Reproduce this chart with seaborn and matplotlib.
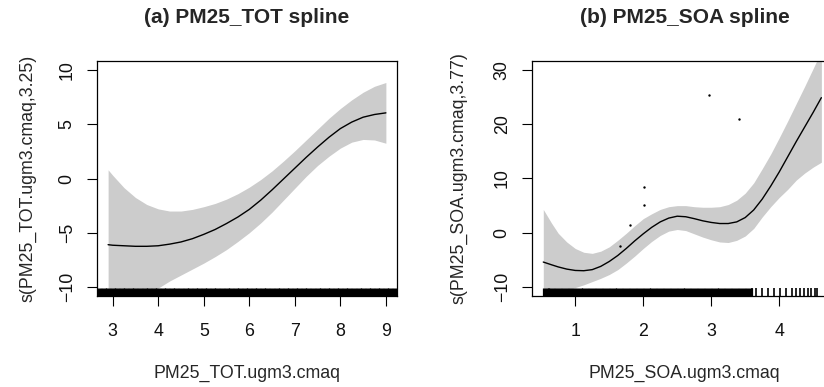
import matplotlib
matplotlib.use("Agg")
import matplotlib.pyplot as plt
import seaborn as sns

# ── data ──────────────────────────────────────────────────────────────────────
tot_x     = [2.9, 3.0, 3.25, 3.5, 3.75, 4.0, 4.25, 4.5, 4.75, 5.0, 5.25, 5.5, 5.75,
             6.0, 6.25, 6.5, 6.75, 7.0, 7.25, 7.5, 7.75, 8.0, 8.25, 8.5, 8.75, 9.0]
tot_fit   = [-6.1, -6.15, -6.2, -6.25, -6.25, -6.2, -6.05, -5.85, -5.55, -5.15,
             -4.7, -4.15, -3.55, -2.85, -2.0, -1.05, -0.05, 0.95, 1.95, 2.9,
             3.8, 4.6, 5.2, 5.65, 5.9, 6.05]
tot_upper = [0.8, 0.3, -0.85, -1.75, -2.4, -2.8, -3.0, -3.0, -2.85, -2.6,
             -2.3, -1.9, -1.4, -0.8, -0.1, 0.7, 1.6, 2.55, 3.55, 4.55,
             5.55, 6.45, 7.25, 7.95, 8.5, 8.85]
tot_lower = [-14.0, -13.6, -12.7, -11.8, -10.9, -10.1, -9.45, -8.9, -8.35, -7.8,
             -7.2, -6.55, -5.8, -5.0, -4.1, -3.1, -2.0, -0.9, 0.2, 1.2,
             2.05, 2.8, 3.35, 3.6, 3.55, 3.25]
tot_rug = [2.7, 2.8, 2.9, 3.0, 3.1, 3.2, 3.3, 3.4, 3.5, 3.6, 3.7, 3.8, 3.9,
           4.0, 4.1, 4.2, 4.3, 4.4, 4.5, 4.6, 4.7, 4.8, 4.9, 5.0, 5.1, 5.2,
           5.3, 5.4, 5.5, 5.6, 5.7, 5.8, 5.9, 6.0, 6.1, 6.2, 6.3, 6.4, 6.5,
           6.6, 6.7, 6.8, 6.9, 7.0, 7.1, 7.2, 7.3, 7.4, 7.5, 7.6, 7.7, 7.8,
           7.9, 8.0, 8.1, 8.2, 8.3, 8.4, 8.5, 8.6, 8.7, 8.8, 8.9, 9.0, 9.1, 9.2]

soa_x     = [0.53, 0.65, 0.75, 0.875, 1.0, 1.125, 1.25, 1.375, 1.5, 1.625,
             1.75, 1.875, 2.0, 2.125, 2.25, 2.375, 2.5, 2.625, 2.75, 2.875,
             3.0, 3.125, 3.25, 3.375, 3.5, 3.625, 3.75, 3.875, 4.0, 4.125,
             4.25, 4.375, 4.5, 4.62]
soa_fit   = [-5.4, -5.9, -6.3, -6.7, -6.95, -7.0, -6.8, -6.2, -5.3, -4.2,
             -2.9, -1.5, -0.2, 1.0, 2.0, 2.7, 3.05, 2.95, 2.6, 2.2,
             1.9, 1.7, 1.7, 2.0, 2.8, 4.2, 6.2, 8.6, 11.2, 14.0,
             16.8, 19.5, 22.2, 24.9]
soa_upper = [4.3, 1.8, -0.1, -1.7, -2.9, -3.6, -3.8, -3.4, -2.6, -1.4,
             -0.1, 1.3, 2.6, 3.5, 4.3, 4.8, 5.0, 5.0, 4.8, 4.7,
             4.7, 4.8, 5.2, 6.0, 7.3, 9.2, 11.8, 14.5, 17.5, 20.6,
             23.8, 27.0, 30.3, 33.5]
soa_lower = [-15.0, -13.0, -11.6, -10.7, -10.1, -9.6, -9.0, -8.4, -7.7, -6.8,
             -5.6, -4.3, -2.9, -1.6, -0.5, 0.3, 0.6, 0.4, -0.2, -0.8,
             -1.3, -1.7, -1.8, -1.4, -0.6, 0.8, 2.9, 4.8, 6.5, 8.0,
             9.7, 11.0, 12.1, 13.0]
soa_pts_x = [1.66, 1.81, 2.01, 2.01, 2.97, 3.41]
soa_pts_y = [-2.4, 1.4, 5.2, 8.5, 25.4, 21.0]
soa_rug_dense = [0.57, 0.65, 0.75, 0.85, 0.95, 1.05, 1.15, 1.25, 1.35, 1.45,
                 1.55, 1.65, 1.75, 1.85, 1.95, 2.05, 2.15, 2.25, 2.35, 2.45,
                 2.55, 2.65, 2.75, 2.85, 2.95, 3.05, 3.15, 3.25, 3.35, 3.45, 3.55]
soa_rug_sparse = [3.6, 3.66, 3.75, 3.83, 3.93, 4.01, 4.10, 4.19, 4.25, 4.31,
                  4.37, 4.42, 4.47, 4.52, 4.55]

tot_yticks = [-10, -5, 0, 5, 10]
soa_yticks = [-10, 0, 10, 20, 30]
tot_xticks = [3, 4, 5, 6, 7, 8, 9]
soa_xticks = [1, 2, 3, 4]

BAND = "#cccccc"
FS = 12.8

sns.set_style("ticks")
plt.rcParams["font.family"] = ["Liberation Sans", "DejaVu Sans"]

fig = plt.figure(figsize=(8.24, 3.87), dpi=100)
ax_a = fig.add_axes([97 / 824, 91 / 387, 300 / 824, 235 / 387])
ax_b = fig.add_axes([532 / 824, 91 / 387, 305 / 824, 235 / 387])


def style_axes(ax, xticks, yticks, xlim, ylim, title, xlabel):
    ax.set_xlim(*xlim)
    ax.set_ylim(*ylim)
    ax.set_xticks(xticks)
    ax.set_yticks(yticks)
    for sp in ax.spines.values():
        sp.set_visible(True)
        sp.set_color("black")
        sp.set_linewidth(0.9)
    ax.tick_params(axis="both", direction="out", length=7.5, width=0.8,
                   labelsize=FS, color="black", labelcolor="#111111")
    ax.tick_params(axis="x", pad=12)
    ax.tick_params(axis="y", pad=14)
    for lbl in ax.get_yticklabels():
        lbl.set_rotation(90)
        lbl.set_ha("center")
        lbl.set_va("center")
    ax.text(0.5, 1.187, title, transform=ax.transAxes, ha="center", va="center",
            fontsize=15, fontweight="bold")
    ax.text(0.5, -0.328, xlabel, transform=ax.transAxes, ha="center", va="center",
            fontsize=FS)
    ax.set_ylabel("")
    ax.set_xlabel("")


# ── (a) PM25_TOT ──────────────────────────────────────────────────────────────
ax_a.fill_between(tot_x, tot_lower, tot_upper, color=BAND, lw=0)
sns.lineplot(x=tot_x, y=tot_fit, color="black", linewidth=1, sort=False,
             estimator=None, ax=ax_a)
sns.rugplot(x=tot_rug, height=0.035, linewidth=3.8, color="black", ax=ax_a)
style_axes(ax_a, tot_xticks, tot_yticks, (2.656, 9.244), (-10.83, 10.83),
           "(a) PM25_TOT spline", "PM25_TOT.ugm3.cmaq")
ax_a.text(-0.23, 0.5, "s(PM25_TOT.ugm3.cmaq,3.25)", transform=ax_a.transAxes,
          rotation=90, ha="center", va="center", fontsize=FS)

# ── (b) PM25_SOA ──────────────────────────────────────────────────────────────
ax_b.fill_between(soa_x, soa_lower, soa_upper, color=BAND, lw=0)
sns.lineplot(x=soa_x, y=soa_fit, color="black", linewidth=1, sort=False,
             estimator=None, ax=ax_b)
sns.scatterplot(x=soa_pts_x, y=soa_pts_y, s=3, color="black", linewidth=0, ax=ax_b)
sns.rugplot(x=soa_rug_dense, height=0.035, linewidth=5.2, color="black", ax=ax_b)
sns.rugplot(x=soa_rug_sparse, height=0.035, linewidth=1.2, color="black", ax=ax_b)
style_axes(ax_b, soa_xticks, soa_yticks, (0.364, 4.85), (-11.66, 31.66),
           "(b) PM25_SOA spline", "PM25_SOA.ugm3.cmaq")
ax_b.text(-0.24, 0.5, "s(PM25_SOA.ugm3.cmaq,3.77)", transform=ax_b.transAxes,
          rotation=90, ha="center", va="center", fontsize=FS)

fig.savefig("out.png", dpi=100)
